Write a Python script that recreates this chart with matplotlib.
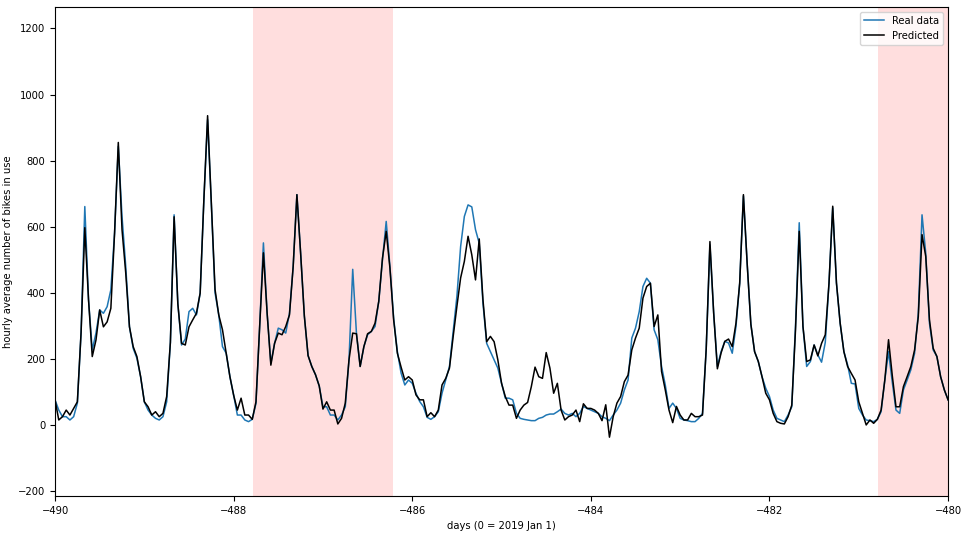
import numpy as np
import matplotlib
matplotlib.use('Agg')
import matplotlib.pyplot as plt

# hourly samples from day -490 to day -480
start_day = -490
hours = np.arange(241)

real = [76, 45, 25, 25, 15, 25, 66, 280, 661, 379, 227, 278, 348, 338, 358, 409, 581, 843, 631, 480, 297, 232, 202, 146,
        70, 45, 30, 20, 15, 25, 70, 250, 636, 367, 242, 260, 343, 353, 333, 399, 682, 924, 670, 400, 333, 237, 217, 146,
        90, 30, 30, 15, 10, 17, 65, 300, 551, 338, 187, 247, 293, 288, 278, 338, 480, 697, 520, 330, 210, 177, 152, 118,
        55, 55, 30, 30, 15, 30, 55, 197, 471, 278, 177, 237, 273, 283, 298, 374, 500, 616, 480, 323, 222, 157, 121, 136,
        126, 96, 71, 55, 23, 17, 25, 40, 96, 136, 177, 283, 389, 540, 631, 666, 660, 591, 550, 369, 247, 222, 197, 172,
        126, 81, 81, 76, 35, 20, 17, 15, 13, 13, 20, 23, 30, 33, 33, 40, 48, 35, 30, 35, 25, 35, 56, 50,
        45, 40, 35, 25, 20, 13, 30, 45, 66, 106, 136, 263, 293, 343, 419, 444, 429, 288, 258, 177, 121, 50, 66, 50,
        20, 15, 13, 10, 10, 20, 35, 230, 545, 340, 177, 222, 253, 248, 217, 298, 429, 693, 490, 305, 222, 192, 146, 111,
        86, 45, 20, 15, 10, 30, 55, 300, 612, 298, 177, 192, 242, 212, 190, 250, 429, 657, 430, 308, 222, 182, 126, 124,
        50, 30, 15, 13, 10, 17, 40, 136, 222, 130, 45, 35, 106, 136, 167, 217, 338, 636, 520, 308, 227, 207, 146, 106,
        76]

predicted = [76, 15, 25, 45, 30, 50, 70, 280, 597, 379, 207, 257, 348, 297, 312, 353, 581, 855, 591, 460, 297, 237, 207, 146,
             70, 55, 30, 40, 25, 35, 86, 250, 630, 367, 247, 242, 297, 318, 338, 399, 682, 936, 670, 410, 333, 288, 217, 146,
             90, 45, 81, 30, 30, 17, 70, 300, 521, 338, 181, 247, 278, 273, 298, 333, 480, 697, 520, 330, 210, 177, 152, 118,
             48, 70, 45, 45, 3, 20, 66, 197, 278, 276, 177, 237, 276, 283, 308, 374, 505, 586, 475, 318, 217, 175, 136, 146,
             136, 91, 76, 76, 25, 37, 25, 45, 121, 141, 172, 268, 359, 445, 495, 571, 515, 439, 563, 379, 252, 268, 252, 197,
             126, 86, 60, 60, 20, 45, 60, 68, 116, 175, 146, 141, 219, 172, 96, 126, 45, 15, 25, 30, 45, 10, 64, 50,
             50, 45, 35, 13, 61, -37, 25, 66, 86, 131, 151, 227, 263, 293, 384, 419, 429, 298, 333, 162, 106, 45, 7, 56,
             30, 15, 15, 35, 25, 25, 30, 230, 555, 340, 170, 218, 253, 260, 237, 308, 429, 697, 490, 305, 222, 192, 146, 96,
             76, 35, 10, 5, 3, 25, 60, 288, 586, 298, 192, 197, 242, 209, 247, 273, 429, 662, 430, 308, 222, 177, 156, 136,
             70, 35, 0, 15, 5, 17, 45, 136, 258, 150, 55, 55, 116, 146, 177, 227, 328, 576, 510, 318, 232, 207, 146, 106,
             76]

test_spans = [(-487.78, -486.21), (-480.78, -479.5)]

days = start_day + hours / 24.0

fig = plt.figure(figsize=(9.69, 5.34), dpi=100)
ax = fig.add_axes([0.0568, 0.0712, 0.9216, 0.9157])

for a, b in test_spans:
    ax.axvspan(a, b, color='red', alpha=0.13, lw=0)

ax.plot(days, real, color='#1f77b4', lw=1.1, label='Real data')
ax.plot(days, predicted, color='black', lw=1.1, label='Predicted')

ax.set_xlim(-490, -480)
ax.set_ylim(-215, 1265)
ax.set_yticks(np.arange(-200, 1201, 200))
ax.set_xticks(np.arange(-490, -479, 2))
ax.tick_params(labelsize=7.2)
ax.set_xlabel('days (0 = 2019 Jan 1)', fontsize=7.2)
ax.set_ylabel('hourly average number of bikes in use', fontsize=7.2)
ax.legend(loc='upper right', fontsize=7.2)

fig.savefig('out.png', dpi=100)
